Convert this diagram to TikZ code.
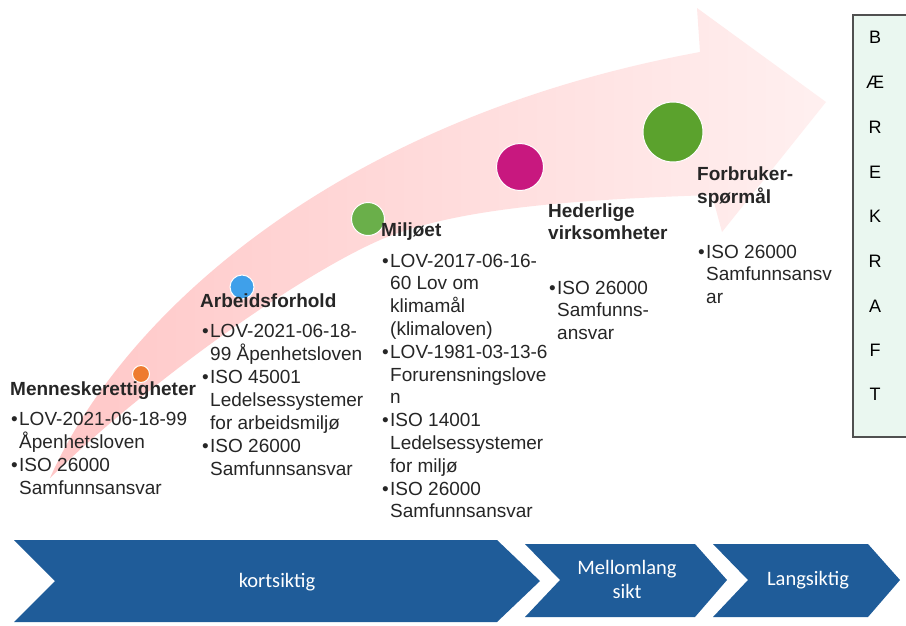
\documentclass[tikz,border=0pt]{standalone}
\usepackage{fontspec}
\setmainfont{Liberation Sans}
\newfontfamily\calib{Carlito}
\definecolor{chev}{HTML}{1F5C99}
\definecolor{mint}{HTML}{EAF7F0}
\definecolor{boxline}{HTML}{505050}
\definecolor{dotorange}{HTML}{EE7B30}
\definecolor{dotblue}{HTML}{3FA0EA}
\definecolor{dotgreen}{HTML}{6AAF4A}
\definecolor{dotmag}{HTML}{C8187F}
\definecolor{dotbig}{HTML}{5BA22D}
\definecolor{txt}{HTML}{262626}
\newcommand\bul{\llap{•\hspace{1.5pt}}}
\begin{document}
\begin{tikzpicture}[x=1pt,y=-1pt,
  head/.style={anchor=base west, inner sep=0pt, font=\bfseries\fontsize{19}{22}\selectfont, text=txt},
  body/.style={anchor=base west, inner sep=0pt, font=\fontsize{19}{23}\selectfont, text=txt},
  dot/.style={circle, draw=white, line width=1pt, inner sep=0pt},
  chevron/.style={fill=chev},
  chevtext/.style={text=white, font=\calib\fontsize{20.5}{24}\selectfont, align=center, inner sep=0pt},
  letter/.style={font=\fontsize{18}{18}\selectfont, text=black, inner sep=0pt}
]
\useasboundingbox (0,0) rectangle (906,625);
\fill[white] (0,0) rectangle (906,625);

% big curved arrow
\shade[left color=red!22!white, right color=red!6!white]
  (50,478) .. controls (120,320) and (330,120) .. (700,52)
  -- (697,8) -- (826,102) -- (722,232) -- (712,195)
  .. controls (560,200) and (450,210) .. (380,240)
  .. controls (300,275) and (150,380) .. (50,478) -- cycle;

% right box
\draw[boxline, line width=1.4pt, fill=mint] (915,15) -- (853,15) -- (853,437) -- (915,437);
\foreach \l/\yy [count=\i] in {B/37,Æ/82,R/127,E/172,K/216,R/261,A/306,F/350,T/394}
  \node[letter] (ltr\i) at (875,\yy) {\l};

% dots
\node[dot, fill=dotorange, minimum size=17pt] (d1) at (141,374) {};
\node[dot, fill=dotblue, minimum size=24pt] (d2) at (242,287) {};
\node[dot, fill=dotgreen, minimum size=33pt] (d3) at (368,219) {};
\node[dot, fill=dotmag, minimum size=47pt] (d4) at (520,167) {};
\node[dot, fill=dotbig, minimum size=60pt] (d5) at (673,132) {};

% column 1
\node[head] (h1) at (10,395) {Menneskerettigheter};
\foreach \t [count=\i from 0] in {{\bul LOV-2021-06-18-99},{Åpenhetsloven},{\bul ISO 26000},{Samfunnsansvar}}
  \node[body] (c1l\i) at (19,425+23.3*\i) {\t};

% column 2
\node[head] (h2) at (200,307) {Arbeidsforhold};
\foreach \t [count=\i from 0] in {{\bul LOV-2021-06-18-},{99 Åpenhetsloven},{\bul ISO 45001},{Ledelsessystemer},{for arbeidsmiljø},{\bul ISO 26000},{Samfunnsansvar}}
  \node[body] (c2l\i) at (210,337+23*\i) {\t};

% column 3
\node[head] (h3) at (381,236) {Miljøet};
\foreach \t [count=\i from 0] in {{\bul LOV-2017-06-16-},{60 Lov om},{klimamål},{(klimaloven)},{\bul LOV-1981-03-13-6},{Forurensningslove},{n},{\bul ISO 14001},{Ledelsessystemer},{for miljø},{\bul ISO 26000},{Samfunnsansvar}}
  \node[body] (c3l\i) at (390,267+22.8*\i) {\t};

% column 4
\node[head] (h4a) at (548,217) {Hederlige};
\node[head] (h4b) at (548,239) {virksomheter};
\foreach \t [count=\i from 0] in {{\bul ISO 26000},{Samfunns-},{ansvar}}
  \node[body] (c4l\i) at (557,294+22.5*\i) {\t};

% column 5
\node[head] (h5a) at (697,180) {Forbruker-};
\node[head] (h5b) at (697,203) {spørmål};
\foreach \t [count=\i from 0] in {{\bul ISO 26000},{Samfunnsansv},{ar}}
  \node[body] (c5l\i) at (706,258+22.5*\i) {\t};

% bottom chevrons
\fill[chevron] (14,540) -- (497,540) -- (540,581) -- (497,622) -- (14,622) -- (55,581) -- cycle;
\fill[chevron] (525,544) -- (695,544) -- (727,580) -- (695,617) -- (525,617) -- (560,580) -- cycle;
\fill[chevron] (713,544) -- (868,544) -- (900,580) -- (868,617) -- (713,617) -- (748,580) -- cycle;
\node[chevtext] (k1) at (277,582) {kortsiktig};
\node[chevtext] (k2) at (627,579) {Mellomlang\\sikt};
\node[chevtext] (k3) at (808,580) {Langsiktig};
\end{tikzpicture}
\end{document}
